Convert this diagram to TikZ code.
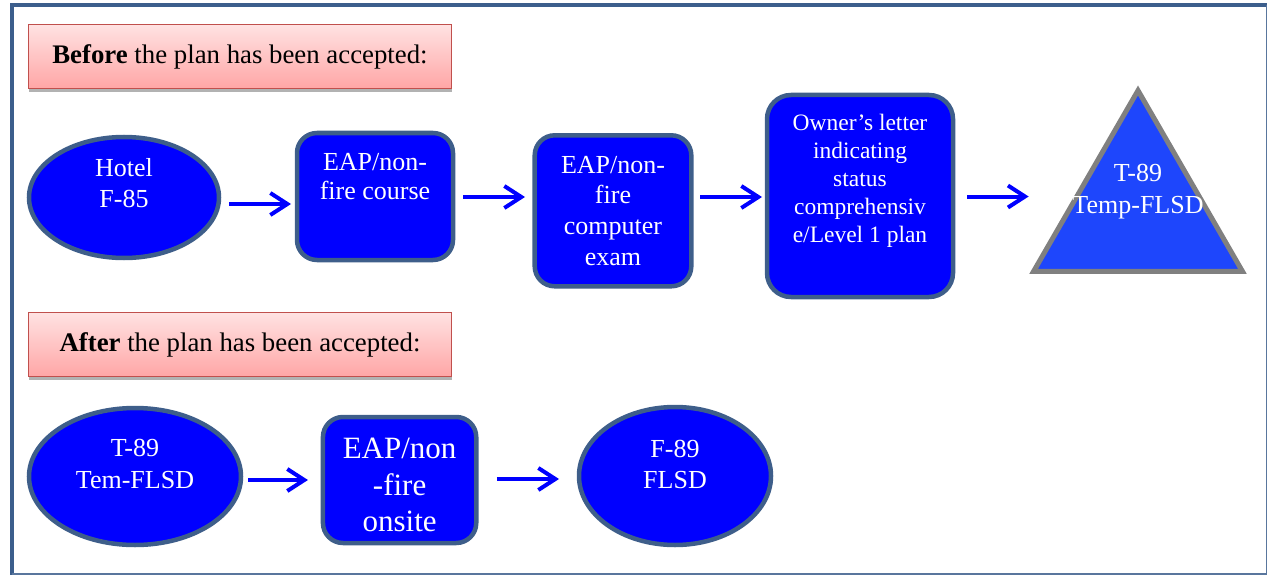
\documentclass[tikz,border=0pt]{standalone}
\usepackage{fontspec}
\setmainfont{Liberation Serif}
\usetikzlibrary{arrows.meta,shapes.geometric,shadows}
\definecolor{framecol}{RGB}{60,94,140}
\definecolor{edgecol}{RGB}{62,94,138}
\definecolor{boxblue}{RGB}{0,0,255}
\definecolor{triblue}{RGB}{30,70,252}
\definecolor{pinktop}{RGB}{255,226,226}
\definecolor{pinkbot}{RGB}{255,166,166}
\definecolor{pinkedge}{RGB}{192,80,77}
\begin{document}
\begin{tikzpicture}[
      x=1pt, y=-1pt,
      every node/.style={font=\fontsize{26}{31}\selectfont, outer sep=0pt},
      head/.style={draw=pinkedge, line width=1.2pt, top color=pinktop, bottom color=pinkbot, minimum width=423pt, minimum height=63.5pt, inner sep=0pt, font=\fontsize{26.8}{31}\selectfont, drop shadow={shadow xshift=0pt, shadow yshift=-3.5pt, fill=gray!60, opacity=1}},
      oval/.style={ellipse, draw=edgecol, line width=4.5pt, fill=boxblue, inner sep=0pt},
      stepbox/.style={rectangle, rounded corners=20pt, draw=edgecol, line width=4.5pt, fill=boxblue, inner sep=0pt},
      goal/.style={regular polygon, regular polygon sides=3, draw=gray, line width=5pt, fill=triblue, inner sep=0pt, minimum size=241pt},
      txt/.style={text=white, align=center, inner sep=0pt},
      flow/.style={draw=blue, line width=4pt, -{Straight Barb[length=17pt, width=22pt]}}
    ]
      \useasboundingbox (0,0) rectangle (1268,575);
      % page frame
      \draw[framecol, line width=4pt] (12,575) -- (12,5.3) -- (1266.7,5.3);
      \draw[framecol!85, line width=1.5pt] (1266.7,5.3) -- (1266.7,574.2) -- (12,574.2);

      % before
      \node[head] (before) at (240,56.5) {\textbf{Before} the plan has been accepted:};
      \node[oval, minimum width=190pt, minimum height=121pt] (hotel) at (124,197.5) {};
      \node[txt] (hoteltxt) at ([shift={(0,-14)}]hotel.center) {Hotel\\F-85};
      \node[stepbox, minimum width=156pt, minimum height=127pt] (course) at (375,196.5) {};
      \node[txt, font=\fontsize{26}{29.5}\selectfont] (coursetxt) at ([shift={(0,-20)}]course.center) {EAP/non-\\fire course};
      \node[stepbox, minimum width=156.6pt, minimum height=151pt] (exam) at (613,210.8) {};
      \node[txt, font=\fontsize{26}{30.6}\selectfont] (examtxt) at (exam.center) {EAP/non-\\fire\\computer\\exam};
      \node[stepbox, rounded corners=24pt, minimum width=186pt, minimum height=202pt] (owner) at (860,196) {};
      \node[txt, font=\fontsize{23.5}{28}\selectfont] (ownertxt) at ([shift={(0,-15)}]owner.center) {Owner’s letter\\indicating\\status\\comprehensiv\\e/Level 1 plan};
      \node[goal] (goal) at (1138,211) {};
      \node[txt, font=\fontsize{26}{32}\selectfont] (goaltxt) at ([shift={(0,-19.5)}]goal.center) {T-89\\Temp-FLSD};
      \coordinate (goalin) at (goal.corner 2 |- owner.east);

      \draw[flow] ([shift={(10,6.5)}]hotel.east) -- ([shift={(-6,7.5)}]course.west);
      \draw[flow] ([shift={(10,0.5)}]course.east) -- ([shift={(-9.7,-13.8)}]exam.west);
      \draw[flow] ([shift={(8.7,-13.8)}]exam.east) -- ([shift={(-5,1)}]owner.west);
      \draw[flow] ([shift={(14,0.5)}]owner.east) -- ([shift={(-5,0.5)}]goalin);

      % after
      \node[head] (after) at (240,344.5) {\textbf{After} the plan has been accepted:};
      \node[oval, minimum width=212pt, minimum height=137pt] (temp) at (135,476.5) {};
      \node[txt, font=\fontsize{26}{31.6}\selectfont] (temptxt) at ([shift={(0,-12.5)}]temp.center) {T-89\\Tem-FLSD};
      \node[stepbox, minimum width=153.3pt, minimum height=126pt] (onsite) at (399.6,480) {};
      \node[txt, font=\fontsize{31}{36.5}\selectfont] (onsitetxt) at ([shift={(0,5)}]onsite.center) {EAP/non\\-fire\\onsite};
      \node[oval, minimum width=192pt, minimum height=138pt] (flsd) at (675,476) {};
      \node[txt] (flsdtxt) at ([shift={(0,-12)}]flsd.center) {F-89\\FLSD};

      \draw[flow] ([shift={(7,3.5)}]temp.east) -- ([shift={(-15,0)}]onsite.west);
      \draw[flow] ([shift={(20.7,-1)}]onsite.east) -- ([shift={(-20,3)}]flsd.west);
    \end{tikzpicture}
\end{document}
